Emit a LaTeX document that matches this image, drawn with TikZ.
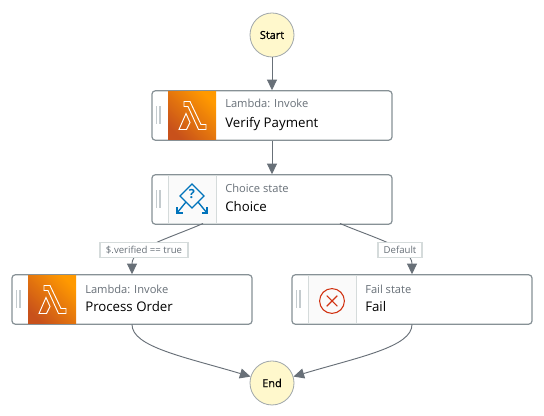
\documentclass[tikz,border=0pt]{standalone}
\usepackage{fontspec}
\setmainfont{Open Sans}
\newfontfamily\medfont[FakeBold=1]{Open Sans}
\usetikzlibrary{arrows.meta,calc}
\definecolor{edgecol}{HTML}{687078}
\definecolor{boxline}{HTML}{879196}
\definecolor{subcol}{HTML}{687078}
\definecolor{endfill}{HTML}{FFF8CC}
\definecolor{iconbg}{HTML}{FAFAFA}
\definecolor{iconline}{HTML}{D5DBDB}
\definecolor{gripcol}{HTML}{C4CBCE}
\definecolor{lamA}{HTML}{FF9900}
\definecolor{lamB}{HTML}{C8511B}
\definecolor{blueicon}{HTML}{0073BB}
\definecolor{redicon}{HTML}{D13212}
\tikzset{
 x=0.75pt,y=-0.75pt,
 statebox/.style={draw=boxline,line width=0.9pt,fill=white,rounded corners=2.4pt,minimum width=180pt,minimum height=37pt,inner sep=0pt},
 terminal/.style={circle,draw=boxline!80,line width=0.6pt,fill=endfill,minimum size=33pt,inner sep=0pt,font=\fontsize{8.2}{10}\selectfont\medfont},
 lamicon/.style={minimum width=36pt,minimum height=36.4pt,inner sep=0pt,top color=lamA,bottom color=lamB,shading angle=-45},
 greyicon/.style={draw=iconline,line width=0.5pt,fill=iconbg,minimum width=36pt,minimum height=36.4pt,inner sep=0pt},
 subtext/.style={anchor=base west,inner sep=0pt,text=subcol,font=\fontsize{8.35}{10}\selectfont},
 nametext/.style={anchor=base west,inner sep=0pt,text=black,font=\fontsize{9.95}{12}\selectfont},
 flow/.style={draw=edgecol,line width=0.7pt,-{Triangle[length=8pt,width=7.5pt]}},
 edgelabel/.style={draw=iconline,line width=0.9pt,fill=white,inner sep=0pt,minimum height=11.5pt,text=subcol,font=\fontsize{7.2}{9}\selectfont},
 grip/.style={draw=gripcol,line width=0.9pt},
 glyph/.style={draw=white,line width=0.7pt,line join=miter},
}
\newcommand{\lamglyph}[2]{%
 \begin{scope}[shift={(#1,#2)}]
  \draw[glyph] (-8,-14) -- (-2,-14) -- (9,9) -- (14,9) -- (14,14) -- (6.5,14) -- (-4,-9) -- (-8,-9) -- cycle;
  \draw[glyph] (-6,-2) -- (-2,7) -- (-5.5,14) -- (-13,14) -- cycle;
 \end{scope}}
\newcommand{\gripbars}[2]{%
 \draw[grip] (#1,#2-9) -- (#1,#2+9);
 \draw[grip] (#1+3.4,#2-9) -- (#1+3.4,#2+9);}
\begin{document}
\begin{tikzpicture}
\useasboundingbox (0,0) rectangle (544,416);
\fill[white] (0,0) rectangle (544,416);
\node[terminal] (start) at (272,35) {Start};
\node[terminal] (end) at (272,383) {End};
\node[statebox] (verify) at (272,115.5) {};
\node[statebox] (choice) at (272,199.5) {};
\node[statebox] (process) at (132,299.5) {};
\node[statebox] (fail) at (412,299.5) {};
% icons
\node[lamicon] (verifyicon) at (192,115.5) {};
\lamglyph{192}{115.5}
\node[greyicon] (choiceicon) at (192,199.5) {};
\node[lamicon] (processicon) at (52,299.5) {};
\lamglyph{52}{299.5}
\node[greyicon] (failicon) at (332,299.5) {};
\draw[redicon,line width=0.8pt] (332,301) circle (12.4);
\draw[redicon,line width=0.8pt] (326.7,295.7) -- (337.3,306.3) (337.3,295.7) -- (326.7,306.3);
% choice glyph
\begin{scope}[shift={(192,196)}]
 \draw[blueicon,line width=1pt,line join=miter] (0,-12) -- (12,0) -- (0,12) -- (-12,0) -- cycle;
 \draw[blueicon,line width=1pt] (-6,6) -- (-15,17) (6,6) -- (15,17);
 \draw[blueicon,line width=1pt,line join=miter] (-15,11.5) -- (-15,17) -- (-9.5,17);
 \draw[blueicon,line width=1pt,line join=miter] (15,11.5) -- (15,17) -- (9.5,17);
 \node[text=blueicon,inner sep=0pt,font=\fontsize{9.5}{10}\selectfont\bfseries] (qmark) at (0,-1.5) {?};
\end{scope}
% grips
\gripbars{156.6}{115.5}
\gripbars{156.6}{199.5}
\gripbars{16.6}{299.5}
\gripbars{296.6}{299.5}
% text
\node[subtext] (vs) at (225,108) {Lambda: Invoke};
\node[nametext] (vn) at (225,127.5) {Verify Payment};
\node[subtext] (cs) at (225,192.5) {Choice state};
\node[nametext] (cn) at (225,211.5) {Choice};
\node[subtext] (ps) at (85,293.5) {Lambda: Invoke};
\node[nametext] (pn) at (85,311.5) {Process Order};
\node[subtext] (fs) at (365,293.5) {Fail state};
\node[nametext] (fn) at (365,311.5) {Fail};
% connectors
\draw[flow] (start) -- (verify);
\draw[flow] (verify) -- (choice);
\coordinate (cp) at (203,223.5);
\coordinate (cf) at (340,223.5);
\coordinate (pb) at (132,324.5);
\coordinate (fb) at (412,324.5);
\draw[flow] (cp) .. controls (170,238) and (132,248) .. (process.north);
\draw[flow] (cf) .. controls (374,238) and (412,248) .. (fail.north);
\draw[flow] (pb) .. controls (132,347) and (185,357) .. (end);
\draw[flow] (fb) .. controls (412,347) and (359,357) .. (end);
\node[edgelabel,minimum width=66pt] (l1) at (144,250) {\$.verified == true};
\node[edgelabel,minimum width=33pt] (l2) at (400,250) {Default};
\end{tikzpicture}
\end{document}
